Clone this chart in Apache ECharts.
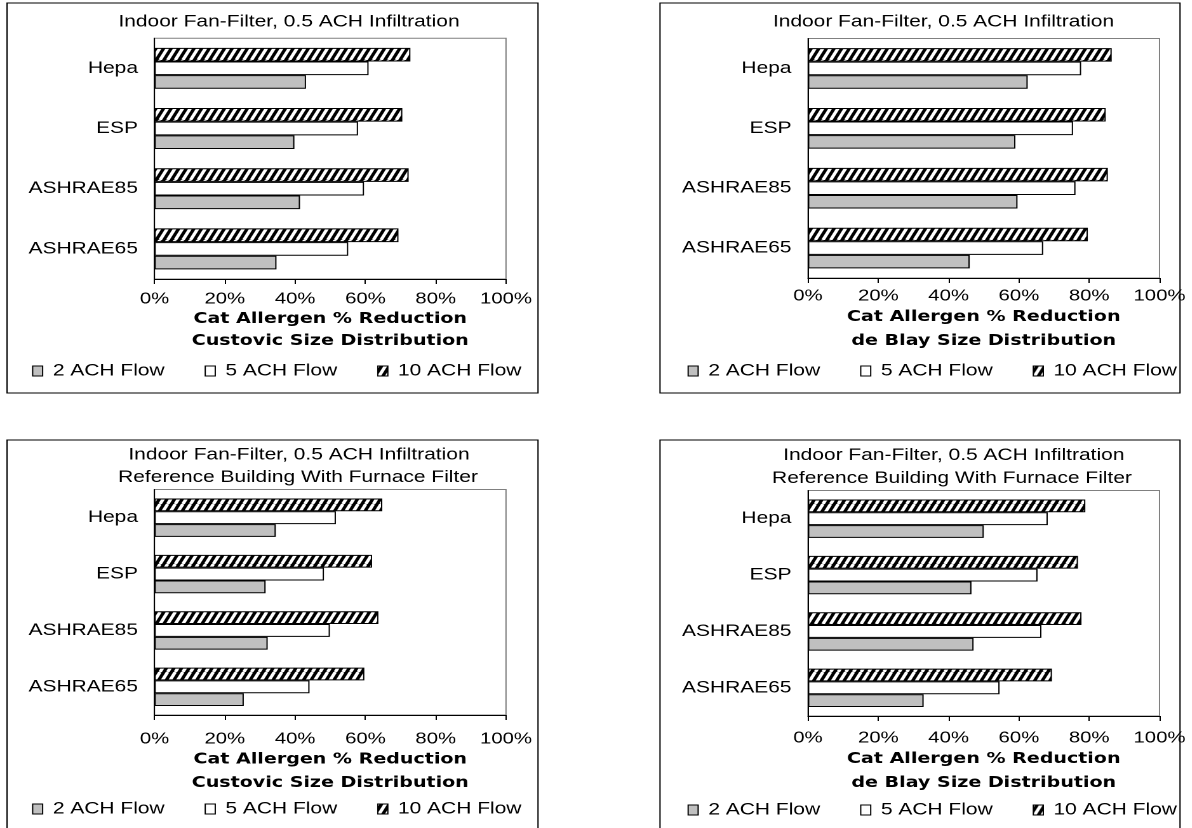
<!DOCTYPE html>
<html>
<head>
<meta charset="utf-8">
<script src="https://cdn.jsdelivr.net/npm/echarts@6/dist/echarts.min.js"></script>
<style>
  html, body { margin: 0; padding: 0; background: #fff; overflow: hidden; }
  #chart { position: absolute; left: 0; top: 0; height: 828px; transform-origin: 0 0; }
</style>
</head>
<body>
<div id="chart"></div>
<script>
// ---- data ----
const categories = ['Hepa', 'ESP', 'ASHRAE85', 'ASHRAE65'];
const seriesNames = ['2 ACH Flow', '5 ACH Flow', '10 ACH Flow'];
const tickUnit = '%';

// Custovic size distribution, fan-filter only
const custovic2 = [43.1, 39.8, 41.4, 34.7];
const custovic5 = [60.9, 57.9, 59.6, 55.1];
const custovic10 = [72.8, 70.5, 72.3, 69.4];
// de Blay size distribution, fan-filter only
const deBlay2 = [62.5, 59.0, 59.6, 46.0];
const deBlay5 = [77.7, 75.4, 76.1, 66.9];
const deBlay10 = [86.4, 84.7, 85.3, 79.6];
// Custovic size distribution, reference building with furnace filter
const custovicFurnace2 = [34.5, 31.6, 32.2, 25.4];
const custovicFurnace5 = [51.6, 48.2, 49.9, 44.1];
const custovicFurnace10 = [64.8, 61.9, 63.7, 59.7];
// de Blay size distribution, reference building with furnace filter
const deBlayFurnace2 = [50.0, 46.5, 47.1, 32.9];
const deBlayFurnace5 = [68.2, 65.3, 66.4, 54.5];
const deBlayFurnace10 = [78.9, 76.8, 77.8, 69.4];

const titleLine1 = 'Indoor Fan-Filter, 0.5 ACH Infiltration';
const titleLine2 = 'Reference Building With Furnace Filter';
const axisTitleCustovic = 'Cat Allergen % Reduction\nCustovic Size Distribution';
const axisTitleDeBlay = 'Cat Allergen % Reduction\nde Blay Size Distribution';

// ---- layout ----
// the drawing is rendered narrower and widened with a CSS scaleX, giving the wide lettering
const SX = 1.27;
const W = 1192 / SX;
const X = v => v / SX;
const FONT = '"Liberation Sans", Arial, sans-serif';

const panels = [
  { values: [custovic2, custovic5, custovic10], axisTitle: axisTitleCustovic,
    box: [7, 3, 538, 393], titles: [[titleLine1, 289, 22]],
    grid: [154.5, 506, 38.2, 279], labelMargin: 12, nameGap: 29, nameLH: 22, legend: [32, 371] },
  { values: [deBlay2, deBlay5, deBlay10], axisTitle: axisTitleDeBlay,
    box: [660, 3, 1180, 393], titles: [[titleLine1, 943.5, 22]],
    grid: [808, 1159.5, 38.5, 278], labelMargin: 10, nameGap: 24, nameLH: 24, legend: [687.5, 371] },
  { values: [custovicFurnace2, custovicFurnace5, custovicFurnace10], axisTitle: axisTitleCustovic,
    box: [7, 440, 538, 840], titles: [[titleLine1, 299, 455], [titleLine2, 298, 477.7]],
    grid: [154.5, 506, 489.5, 715], labelMargin: 16, nameGap: 29, nameLH: 23.6, legend: [32, 809] },
  { values: [deBlayFurnace2, deBlayFurnace5, deBlayFurnace10], axisTitle: axisTitleDeBlay,
    box: [660, 440, 1180, 840], titles: [[titleLine1, 953.8, 455.7], [titleLine2, 952, 478.6]],
    grid: [808, 1159.5, 490.5, 716], labelMargin: 14, nameGap: 25, nameLH: 24, legend: [687.5, 810] }
];

// diagonal black/white hatch for the 10 ACH bars
function makeHatch() {
  const r = 2, w = 6, h = 12;
  const c = document.createElement('canvas');
  c.width = w * r; c.height = h * r;
  const ctx = c.getContext('2d');
  ctx.scale(r, r);
  ctx.fillStyle = '#000';
  ctx.fillRect(0, 0, w, h);
  ctx.strokeStyle = '#fff';
  ctx.lineWidth = 2.7;
  for (let k = -1; k <= 1; k++) {
    ctx.beginPath();
    ctx.moveTo(k * w, h);
    ctx.lineTo(k * w + w, 0);
    ctx.stroke();
  }
  return { image: c, repeat: 'repeat', scaleX: 1 / r, scaleY: 1 / r };
}
const fills = ['#c0c0c0', '#ffffff', makeHatch()];

const dom = document.getElementById('chart');
dom.style.width = W + 'px';
dom.style.transform = 'scaleX(' + SX + ')';
const chart = echarts.init(dom, null, { renderer: 'canvas', devicePixelRatio: 2 });

const grid = [], xAxis = [], yAxis = [], series = [], legend = [], graphic = [];
const yCats = categories.slice().reverse();

panels.forEach((p, i) => {
  const [gl, gr, gt, gb] = p.grid;
  grid.push({
    left: X(gl), top: gt, width: X(gr - gl), height: gb - gt,
    containLabel: false, outerBoundsMode: 'none',
    show: true, borderColor: '#808080', borderWidth: 1, backgroundColor: 'transparent'
  });
  xAxis.push({
    type: 'value', gridIndex: i, min: 0, max: 100, interval: 20,
    axisLine: { show: true, lineStyle: { color: '#000', width: 1 } },
    axisTick: { show: true, inside: false, length: 5, lineStyle: { color: '#000' } },
    splitLine: { show: false },
    axisLabel: { formatter: '{value}' + tickUnit, color: '#000', fontSize: 16, fontFamily: FONT,
                 margin: p.labelMargin, hideOverlap: false },
    name: p.axisTitle, nameLocation: 'middle', nameGap: p.nameGap,
    nameTextStyle: { color: '#000', fontSize: 15, fontWeight: 'bold',
                     fontFamily: '"DejaVu Sans", sans-serif', lineHeight: p.nameLH }
  });
  yAxis.push({
    type: 'category', gridIndex: i, data: yCats,
    axisLine: { show: true, lineStyle: { color: '#000', width: 1 } },
    axisTick: { show: false },
    axisLabel: { color: '#000', fontSize: 16.5, fontFamily: FONT, margin: 13 }
  });
  // within each category band the highest flow rate sits on top, so add series from 10 ACH down
  for (let s = p.values.length - 1; s >= 0; s--) {
    series.push({
      type: 'bar', name: seriesNames[s], xAxisIndex: i, yAxisIndex: i,
      data: p.values[s].slice().reverse(),
      barGap: '0%', barCategoryGap: '32%',
      itemStyle: { color: fills[s], borderColor: '#000', borderWidth: 1 },
      emphasis: { disabled: true }, silent: true
    });
  }
  legend.push({
    left: X(p.legend[0]), top: p.legend[1] - 9, padding: 0,
    orient: 'horizontal', icon: 'rect', itemWidth: X(10), itemHeight: 10, itemGap: 31.5,
    selectedMode: false, data: seriesNames,
    itemStyle: { borderColor: '#000', borderWidth: 1 },
    textStyle: { color: '#000', fontSize: 16.5, fontFamily: FONT, lineHeight: 18, padding: [0, 0, 0, 3] }
  });
  const [bx0, by0, bx1, by1] = p.box;
  graphic.push({
    type: 'rect', silent: true,
    shape: { x: X(bx0), y: by0, width: X(bx1 - bx0), height: by1 - by0 },
    style: { fill: 'none', stroke: '#000', lineWidth: 1 }
  });
  p.titles.forEach(([text, cx, cy]) => {
    graphic.push({
      type: 'text', silent: true, x: X(cx), y: cy,
      style: { text: text, fill: '#000', font: '16.5px ' + FONT, align: 'center', verticalAlign: 'middle' }
    });
  });
});

chart.setOption({
  animation: false,
  backgroundColor: '#fff',
  grid, xAxis, yAxis, series, legend, graphic
});
</script>
</body>
</html>
